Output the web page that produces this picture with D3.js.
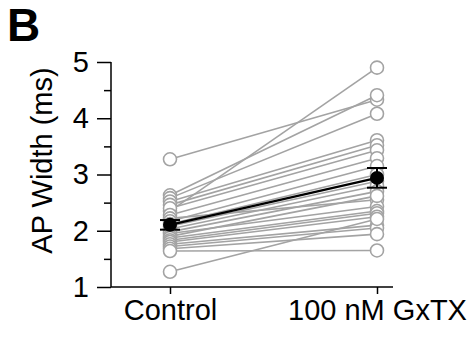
<!DOCTYPE html>
<html><head><meta charset="utf-8">
<script src="https://cdn.jsdelivr.net/npm/d3@7"></script>
<style>body{margin:0;background:#fff}svg{display:block}text{font-family:"Liberation Sans",Arial,sans-serif}</style>
</head><body><svg id="c" width="471" height="344"></svg>
<script>
const categories = ["Control", "100 nM GxTX"];
const controlValues = [3.27,2.35,2.63,2.58,2.52,2.46,2.40,2.28,2.22,2.17,2.12,2.08,2.03,1.98,1.95,1.90,1.87,1.83,1.80,1.76,1.72,1.68,1.64,1.27];
const gxtxValues    = [4.33,4.90,4.41,4.08,3.61,3.52,3.43,3.29,2.55,3.15,3.00,2.88,2.80,2.70,2.43,2.62,2.35,2.31,2.25,2.10,2.05,1.94,1.65,2.21];
const yTicks = [1,2,3,4,5];
const yMinorTicks = [1.5,2.5,3.5,4.5];

const svg = d3.select("#c");
const x = d3.scalePoint().domain(categories).range([170,377]);
const y = d3.scaleLinear().domain([1,5]).range([287,62]);
const grey = "#a3a3a3";

// axes
const yAxis = d3.axisLeft(y).tickValues(yTicks).tickSize(14).tickPadding(8).tickFormat(d3.format("d"));
const gy = svg.append("g").attr("transform","translate(111,0)").call(yAxis);
gy.select(".domain").attr("d","M0,"+y(5)+"V"+y(1)).attr("stroke","#000").attr("stroke-width",1.5);
gy.selectAll(".tick line").attr("stroke-width",1.5);
gy.selectAll(".tick text").attr("font-size",29).attr("fill","#000");
const gym = svg.append("g").attr("transform","translate(111,0)").call(d3.axisLeft(y).tickValues(yMinorTicks).tickSize(7).tickFormat(""));
gym.select(".domain").remove();
gym.selectAll(".tick line").attr("stroke-width",1.5);

const xAxis = d3.axisBottom(x).tickSize(7).tickPadding(5);
const gx = svg.append("g").attr("transform","translate(0,287)").call(xAxis);
gx.select(".domain").attr("d","M111,0H393").attr("stroke","#000").attr("stroke-width",1.5);
gx.selectAll(".tick line").attr("stroke-width",1.5);
gx.selectAll(".tick text").attr("font-size",29).attr("fill","#000");

svg.append("text").attr("transform","translate(52,"+ (y(3)-14) +") rotate(-90)")
  .attr("text-anchor","middle").attr("font-size",29).text("AP Width (ms)");
svg.append("text").attr("x",7).attr("y",41).attr("font-size",46).attr("font-weight","bold").text("B");

// paired lines
const pairs = controlValues.map((c,i)=>[c,gxtxValues[i]]);
svg.append("g").selectAll("line").data(pairs).join("line")
  .attr("x1",x(categories[0])).attr("x2",x(categories[1]))
  .attr("y1",d=>y(d[0])).attr("y2",d=>y(d[1]))
  .attr("stroke",grey).attr("stroke-width",1.6);
const pts = [];
pairs.forEach(p=>{pts.push([0,p[0]]);pts.push([1,p[1]]);});
svg.append("g").selectAll("circle").data(pts).join("circle")
  .attr("cx",d=>x(categories[d[0]])).attr("cy",d=>y(d[1])).attr("r",6.5)
  .attr("fill","#fff").attr("stroke",grey).attr("stroke-width",1.6);

// means
const stats = [controlValues,gxtxValues].map(v=>{
  const m=d3.mean(v), s=d3.deviation(v)/Math.sqrt(v.length); return {m,s};
});
svg.append("line").attr("x1",x(categories[0])).attr("x2",x(categories[1]))
  .attr("y1",y(stats[0].m)).attr("y2",y(stats[1].m)).attr("stroke","#000").attr("stroke-width",2.2);
stats.forEach((s,i)=>{
  const cx=x(categories[i]);
  const g=svg.append("g");
  g.append("line").attr("x1",cx).attr("x2",cx).attr("y1",y(s.m+s.s)).attr("y2",y(s.m-s.s)).attr("stroke","#000").attr("stroke-width",2);
  [s.m+s.s,s.m-s.s].forEach(v=>g.append("line").attr("x1",cx-10).attr("x2",cx+10).attr("y1",y(v)).attr("y2",y(v)).attr("stroke","#000").attr("stroke-width",2));
  g.append("circle").attr("cx",cx).attr("cy",y(s.m)).attr("r",7).attr("fill","#000");
});
</script></body></html>
